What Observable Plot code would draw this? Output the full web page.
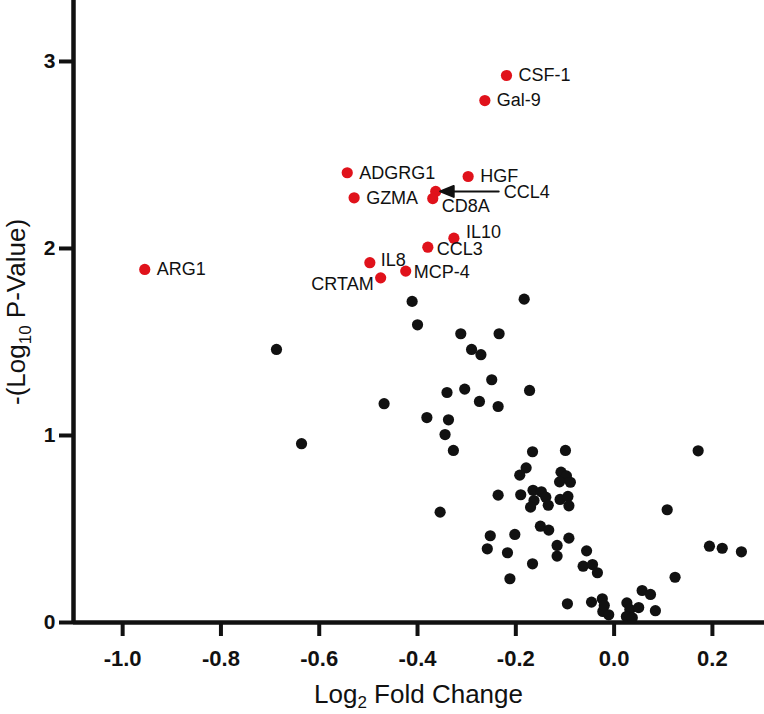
<!DOCTYPE html>
<html>
<head>
<meta charset="utf-8">
<script src="https://cdn.jsdelivr.net/npm/d3@7"></script>
<script src="https://cdn.jsdelivr.net/npm/@observablehq/plot@0.6"></script>
<style>
  html, body { margin: 0; padding: 0; background: #fff; }
  #chart svg { display: block; font-family: Arial, "Liberation Sans", sans-serif; }
</style>
</head>
<body>
<div id="chart"></div>
<script>
// ---- Data ----
const redGenes    = ["CSF-1", "Gal-9", "ADGRG1", "HGF", "GZMA", "CCL4", "CD8A", "IL10", "CCL3", "IL8", "MCP-4", "CRTAM", "ARG1"];
const redLog2FC   = [-0.219, -0.263, -0.543, -0.297, -0.529, -0.363, -0.369, -0.326, -0.379, -0.497, -0.424, -0.475, -0.955];
const redNegLogP  = [2.925, 2.791, 2.405, 2.385, 2.271, 2.305, 2.267, 2.055, 2.007, 1.924, 1.879, 1.843, 1.888];

const blackLog2FC = [
  -0.411, -0.400, -0.312, -0.234, -0.290, -0.271, -0.687, -0.249, -0.340, -0.304,
  -0.274, -0.236, -0.468, -0.381, -0.337, -0.344, -0.327, -0.636, -0.183, -0.172,
  -0.166, -0.099, -0.179, -0.192, -0.108, -0.097, -0.111, -0.089, -0.236, -0.190,
  -0.165, -0.148, -0.139, -0.163, -0.170, -0.134, -0.110, -0.094, -0.092, -0.354,
  -0.150, -0.133, -0.252, -0.202, -0.092, -0.258, -0.116, -0.217, -0.116, -0.056,
  -0.166, -0.063, -0.044, -0.034, -0.212, -0.095, -0.046, -0.024, -0.023, -0.011,
   0.026,  0.032,  0.025,  0.037,  0.050,  0.057,  0.074,  0.084,  0.171,  0.108,
   0.194,  0.220,  0.259,  0.124, -0.020
];
const blackNegLogP = [
  1.717, 1.592, 1.544, 1.544, 1.460, 1.432, 1.460, 1.298, 1.230, 1.248,
  1.182, 1.155, 1.170, 1.096, 1.084, 1.005, 0.920, 0.956, 1.729, 1.241,
  0.913, 0.920, 0.827, 0.788, 0.804, 0.784, 0.752, 0.750, 0.681, 0.683,
  0.707, 0.699, 0.670, 0.652, 0.617, 0.627, 0.658, 0.674, 0.624, 0.590,
  0.515, 0.494, 0.464, 0.471, 0.451, 0.394, 0.412, 0.373, 0.355, 0.383,
  0.314, 0.301, 0.310, 0.266, 0.234, 0.100, 0.109, 0.127, 0.059, 0.041,
  0.105, 0.070, 0.032, 0.025, 0.080, 0.171, 0.150, 0.063, 0.918, 0.603,
  0.408, 0.397, 0.378, 0.242, 0.091
];

const xTicks = [-1.0, -0.8, -0.6, -0.4, -0.2, 0.0, 0.2];
const yTicks = [0, 1, 2, 3];
const xTitle = ["Log", "2", " Fold Change"];
const yTitle = ["-(Log", "10", " P-Value)"];

// ---- Layout / style (kept apart from the data) ----
const labelStyle = {
  "CSF-1":  {dx: 12, dy: 0,    anchor: "start"},
  "Gal-9":  {dx: 12, dy: 0,    anchor: "start"},
  "ADGRG1": {dx: 12, dy: 0,    anchor: "start"},
  "HGF":    {dx: 12, dy: 0,    anchor: "start"},
  "GZMA":   {dx: 12, dy: 0,    anchor: "start"},
  "CCL4":   {dx: 68, dy: 0.5,  anchor: "start"},
  "CD8A":   {dx: 9,  dy: 8,    anchor: "start"},
  "IL10":   {dx: 12, dy: -6,   anchor: "start"},
  "CCL3":   {dx: 9,  dy: 2.5,  anchor: "start"},
  "IL8":    {dx: 11, dy: -2.5, anchor: "start"},
  "MCP-4":  {dx: 8,  dy: 1.5,  anchor: "start"},
  "CRTAM":  {dx: -7, dy: 6,    anchor: "end"},
  "ARG1":   {dx: 12, dy: 0,    anchor: "start"}
};
const RED = "#e0121b";
const INK = "#111111";
const FONT = "Arial, 'Liberation Sans', sans-serif";

// ---- Tables built from the arrays ----
const red = redGenes.map((g, i) => ({gene: g, x: redLog2FC[i], y: redNegLogP[i]}));
const black = blackLog2FC.map((x, i) => ({x, y: blackNegLogP[i]}));
const arrowed = red.filter(d => d.gene === "CCL4");

const arrowShape = {
  draw(context, l) {
    context.moveTo(0, -4.5);
    context.lineTo(-5.5, -18);
    context.lineTo(5.5, -18);
    context.closePath();
    context.moveTo(0, -17);
    context.lineTo(0, -l);
  }
};

const W = 764, H = 714;
const svg = Plot.plot({
  width: W,
  height: H,
  marginLeft: 73,
  marginRight: 0,
  marginTop: 0,
  marginBottom: 92,
  x: {domain: [-1.1, 0.306]},
  y: {domain: [0, 3.326]},
  style: {fontFamily: FONT, background: "#fff", color: INK, overflow: "visible"},
  marks: [
    Plot.axisX(xTicks, {
      tickSize: 14, tickPadding: 14, strokeWidth: 4, stroke: INK,
      fontSize: 22, fontWeight: "bold", fill: INK,
      tickFormat: d => d.toFixed(1), label: null
    }),
    Plot.axisY(yTicks, {
      tickSize: 14, tickPadding: 4, strokeWidth: 4, stroke: INK,
      fontSize: 21, fontWeight: "bold", fill: INK,
      tickFormat: d => String(d), label: null
    }),
    Plot.ruleX([-1.1], {y1: 0, y2: 3.326, stroke: INK, strokeWidth: 4.5}),
    Plot.ruleY([0], {x1: -1.1, x2: 0.306, stroke: INK, strokeWidth: 4.5}),
    Plot.dot(black, {x: "x", y: "y", r: 5.6, fill: INK}),
    Plot.dot(red, {x: "x", y: "y", r: 5.6, fill: RED}),
    Plot.vector(arrowed, {
      x: "x", y: "y", length: 63, rotate: 90, anchor: "start",
      shape: arrowShape, fill: INK, stroke: INK, strokeWidth: 2
    }),
    ...red.map(d => {
      const s = labelStyle[d.gene];
      return Plot.text([d], {
        x: "x", y: "y", text: "gene", dx: s.dx, dy: s.dy,
        textAnchor: s.anchor, fontSize: 18, fill: INK, fontFamily: FONT
      });
    })
  ]
});

// Axis titles with real subscripts
const root = d3.select(svg);
const xt = root.append("text")
  .attr("x", (73 + W) / 2).attr("y", 703)
  .attr("text-anchor", "middle")
  .attr("font-family", FONT).attr("font-size", 26).attr("fill", INK);
xt.append("tspan").text(xTitle[0]);
xt.append("tspan").attr("font-size", 17).attr("dy", 5).text(xTitle[1]);
xt.append("tspan").attr("dy", -5).text(xTitle[2]);

const yt = root.append("text")
  .attr("transform", `translate(25,312) rotate(-90)`)
  .attr("text-anchor", "middle")
  .attr("font-family", FONT).attr("font-size", 26).attr("fill", INK);
yt.append("tspan").text(yTitle[0]);
yt.append("tspan").attr("font-size", 17).attr("dy", 6).text(yTitle[1]);
yt.append("tspan").attr("dy", -6).text(yTitle[2]);

document.getElementById("chart").appendChild(svg);
</script>
</body>
</html>
